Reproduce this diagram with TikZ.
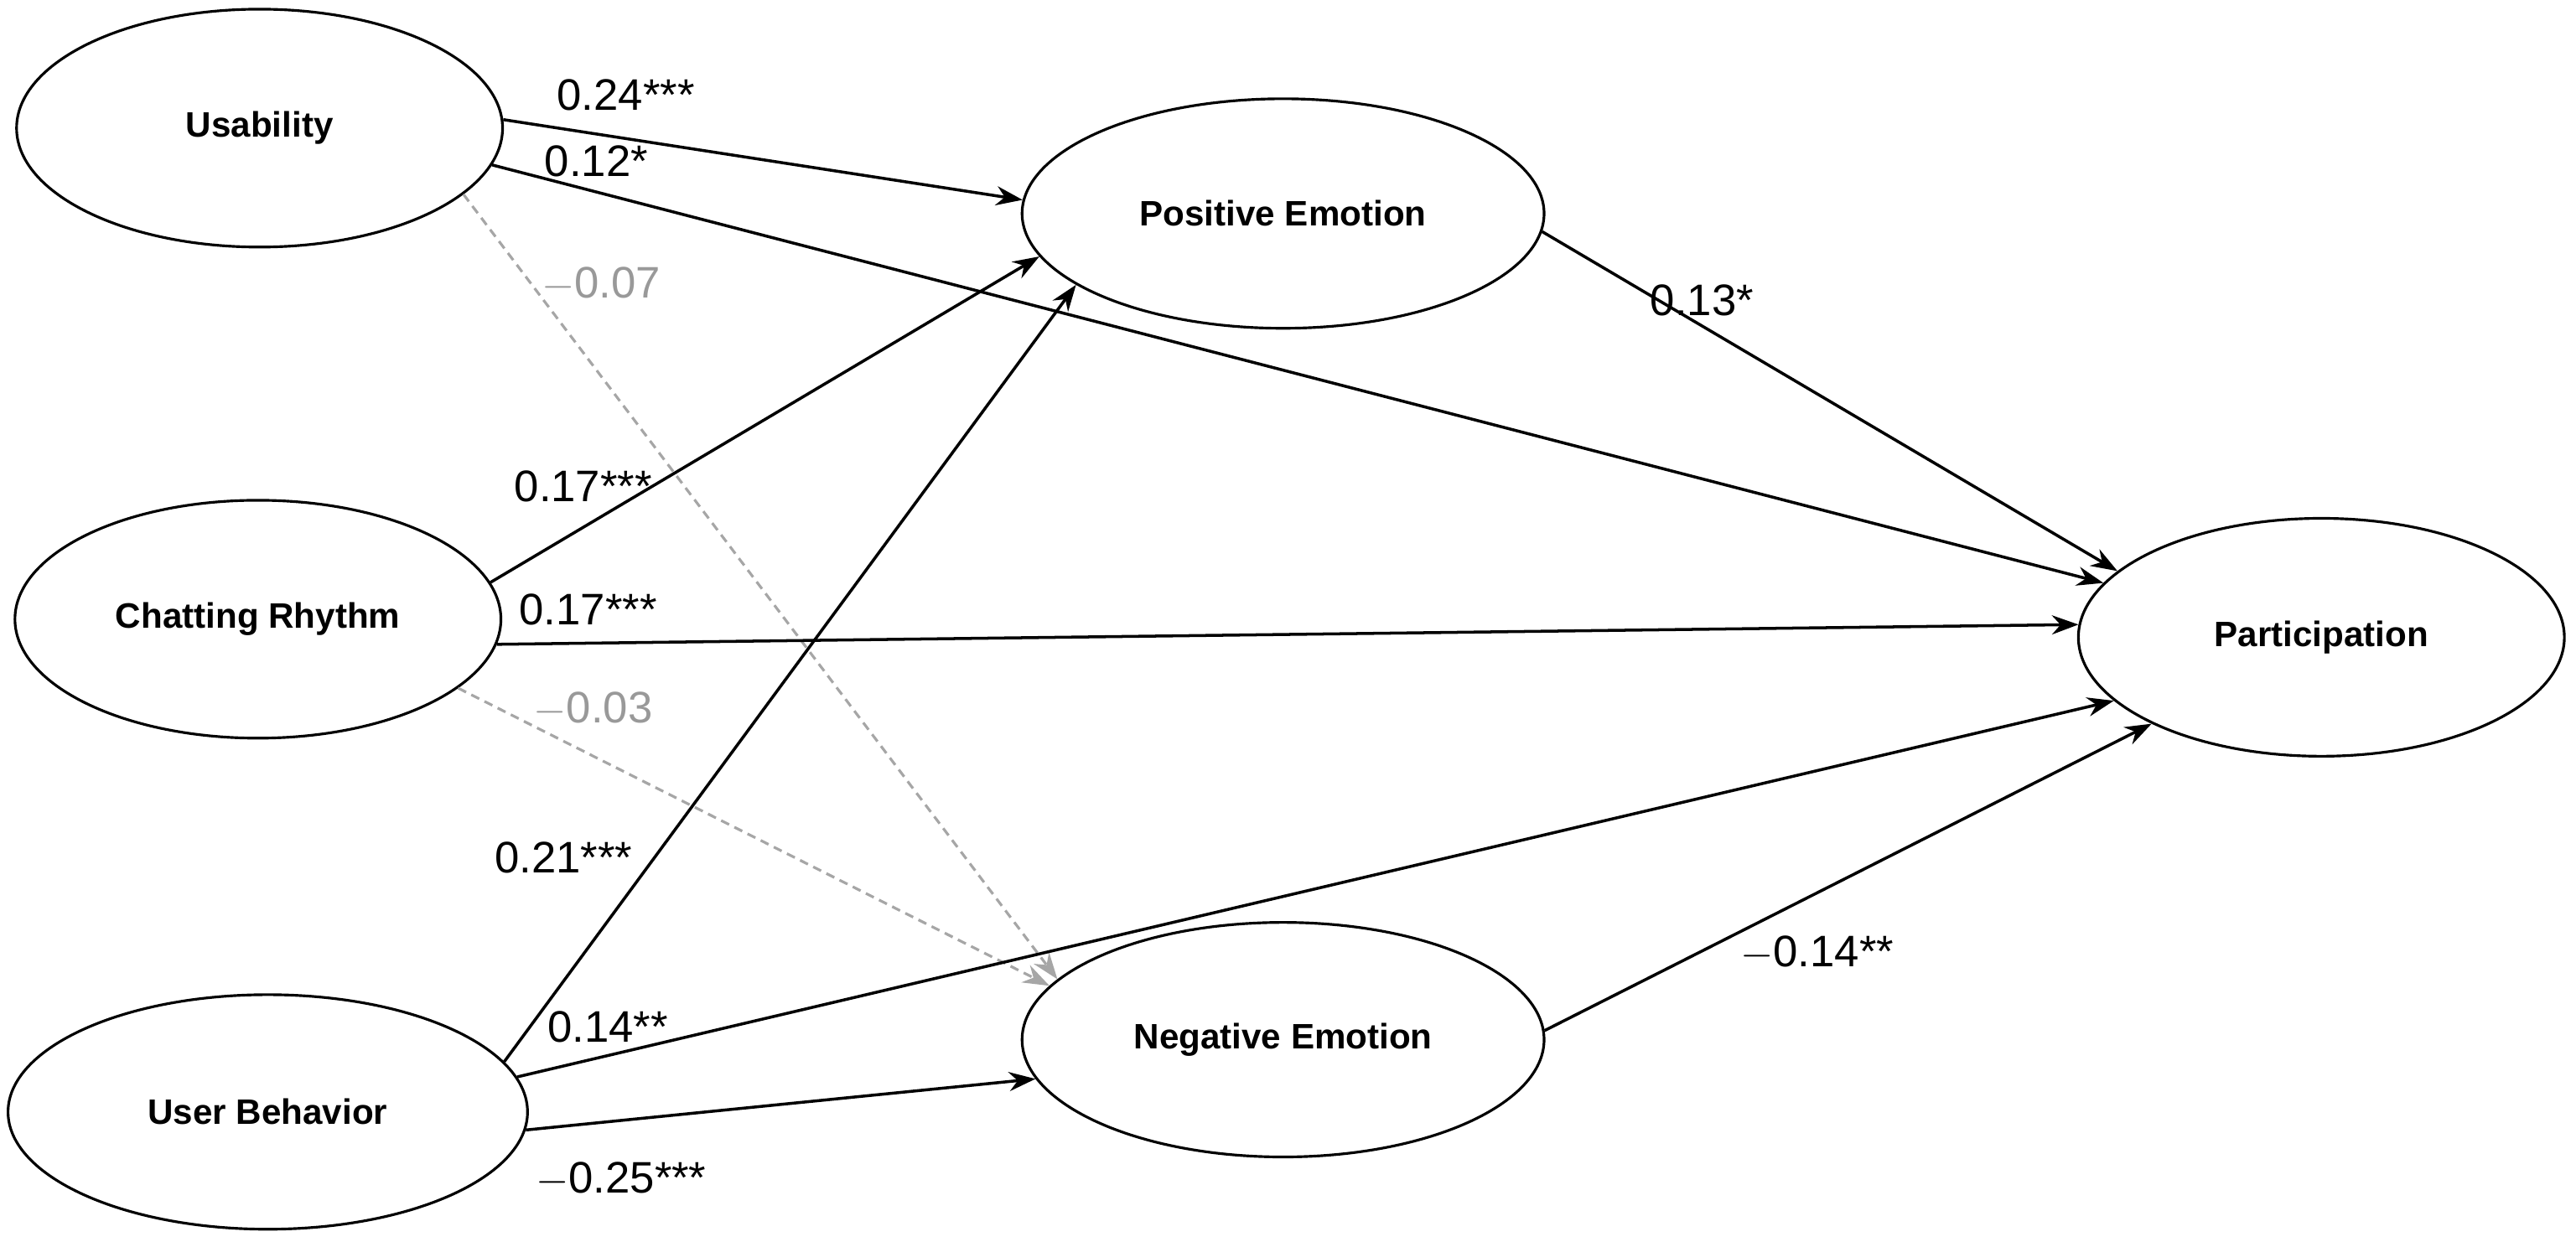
\documentclass[tikz,border=0pt]{standalone}
\usepackage{fontspec}
\setmainfont{Liberation Sans}
\usetikzlibrary{arrows.meta,shapes.geometric}
\tikzset{
var/.style={draw,ellipse,line width=0.9pt,minimum width=5.8cm,minimum height=2.84cm,inner sep=0pt,font=\fontsize{12}{14}\selectfont\bfseries},
path/.style={line width=1pt,-{Stealth[length=9pt,width=6.5pt]}},
ns/.style={line width=0.9pt,gray!70,dashed,dash pattern=on 3pt off 2pt,-{Stealth[length=9pt,width=6.5pt]}},
lab/.style={font=\fontsize{15}{18}\selectfont},
nlab/.style={font=\fontsize{15}{18}\selectfont,text=gray!80}
}
\begin{document}
\begin{tikzpicture}[x=0.0196cm,y=-0.0196cm]
\useasboundingbox (0,0) rectangle (1568,756);

\node[var] (use) at (158,78) {Usability};
\node[var,minimum width=6.23cm,minimum height=2.74cm] (pos) at (781,130) {Positive Emotion};
\node[var] (chat) at (157,377) {Chatting Rhythm};
\node[var] (part) at (1413,388) {Participation};
\node[var,minimum width=6.23cm,minimum height=2.8cm] (neg) at (781,633) {Negative Emotion};
\node[var,minimum width=6.2cm,minimum height=2.8cm] (user) at (163,677) {User Behavior};

\draw[ns] (use.-18) -- (neg.165);
\draw[ns] (chat.-19) -- (neg.167);
\draw[path] (use.2) -- (pos.177);
\draw[path] (use.-9) -- (part.166);
\draw[path] (chat.9) -- (pos.-170);
\draw[path] (chat.-6) -- (part.177);
\draw[path] (user.12) -- (pos.-161);
\draw[path] (user.8) -- (part.-163);
\draw[path] (user.-4) -- (neg.-171);
\draw[path] (pos.-4) -- (part.162);
\draw[path] (neg.2) -- (part.-153);

\node[lab] (l1) at (381,58) {0.24***};
\node[lab] (l2) at (363,98) {0.12*};
\node[nlab] (l3) at (366,173) {$-$0.07};
\node[lab] (l4) at (355,296) {0.17***};
\node[lab] (l5) at (358,371) {0.17***};
\node[nlab] (l6) at (361,432) {$-$0.03};
\node[lab] (l7) at (343,522) {0.21***};
\node[lab] (l8) at (370,625) {0.14**};
\node[lab] (l9) at (378,718) {$-$0.25***};
\node[lab] (l10) at (1036,183) {0.13*};
\node[lab] (l11) at (1106,580) {$-$0.14**};
\end{tikzpicture}
\end{document}
